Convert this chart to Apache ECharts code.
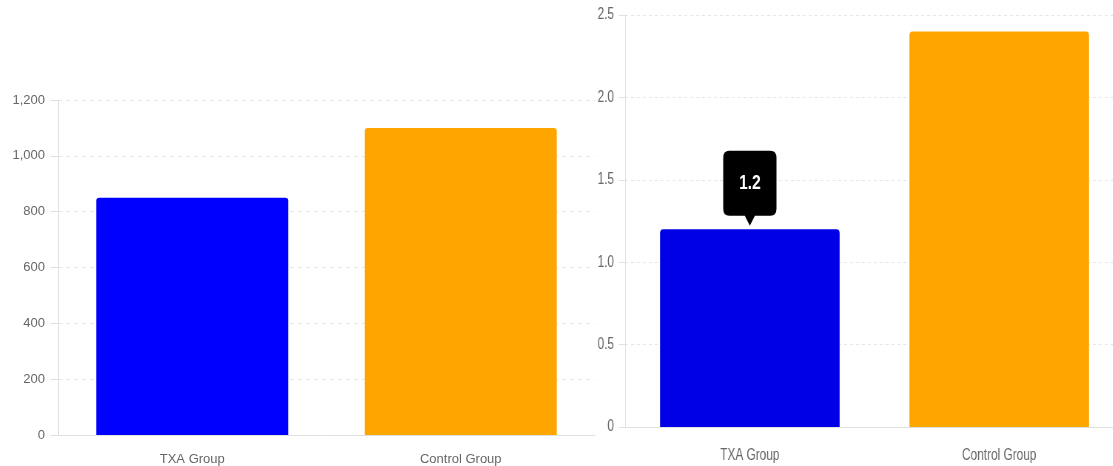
<!DOCTYPE html>
<html><head><meta charset="utf-8">
<script src="https://cdn.jsdelivr.net/npm/echarts@6/dist/echarts.min.js"></script>
<style>
html,body{margin:0;padding:0;background:#fff;overflow:hidden;width:1113px;height:466px}
#wrap{position:relative;width:1113px;height:466px;overflow:hidden}
#left{position:absolute;left:0;top:0;width:1113px;height:466px}
#right{position:absolute;left:580px;top:0;width:800px;height:466px;transform:scaleX(0.74);transform-origin:0 0}
</style>
</head><body><div id="wrap"><div id="left"></div><div id="right"></div></div>
<script>
const categories = ['TXA Group', 'Control Group'];
const leftValues = [850, 1100];
const rightValues = [1.2, 2.4];
const leftColors = ['#0000ff', '#ffa500'];
const rightColors = ['#0000e6', '#ffa500'];
const highlight = { category: 'TXA Group', value: 1.2 };

const gridLine = { show: true, lineStyle: { color: '#e6e6e6', type: [4, 4] } };
const axLine = { show: true, lineStyle: { color: '#e0e0e0' } };
const font = 'Liberation Sans';

const left = echarts.init(document.getElementById('left'));
left.setOption({
  animation: false,
  grid: { left: 58, right: 518, top: 100, bottom: 31 },
  xAxis: { type: 'category', data: categories, axisLine: axLine, axisTick: { show: false },
    axisLabel: { color: '#666', fontSize: 13, fontFamily: font, margin: 18 } },
  yAxis: { type: 'value', min: 0, max: 1200, interval: 200, axisLine: axLine,
    axisTick: { show: true, length: 8, lineStyle: { color: '#e0e0e0' } }, splitLine: gridLine,
    axisLabel: { color: '#666', fontSize: 13, fontFamily: font, margin: 13 } },
  series: [{ type: 'bar', barWidth: '71.5%',
    data: leftValues.map((v, i) => ({ value: v, itemStyle: { color: leftColors[i], borderRadius: [3, 3, 0, 0] } })) }]
});

const tooltipPath = 'path://M8,0 H64 Q72,0 72,7 V58 Q72,65 64,65 H42.8 L36,75 L29.2,65 H8 Q0,65 0,58 V7 Q0,0 8,0 Z';
const right = echarts.init(document.getElementById('right'));
right.setOption({
  animation: false,
  grid: { left: 61, right: 65, top: 15, bottom: 39 },
  xAxis: { type: 'category', data: categories, axisLine: axLine, axisTick: { show: false },
    axisLabel: { color: '#666', fontSize: 16, fontFamily: font, margin: 21 } },
  yAxis: { type: 'value', min: 0, max: 2.5, interval: 0.5, axisLine: axLine,
    axisTick: { show: true, length: 9, lineStyle: { color: '#e0e0e0' } }, splitLine: gridLine,
    axisLabel: { color: '#666', fontSize: 16, fontFamily: font, margin: 15,
      formatter: v => (v === 0 ? '0' : v.toFixed(1)) } },
  series: [{ type: 'bar', barWidth: '72%',
    data: rightValues.map((v, i) => ({ value: v, itemStyle: { color: rightColors[i], borderRadius: [4, 4, 0, 0] } })),
    markPoint: {
      data: [{ coord: [highlight.category, highlight.value], value: highlight.value }],
      symbol: tooltipPath, symbolSize: [72, 75], symbolKeepAspect: false, symbolOffset: [0, -41],
      itemStyle: { color: '#000' },
      label: { show: true, color: '#fff', fontSize: 21, fontWeight: 'bold', fontFamily: font, offset: [0, -5] }
    } }]
});
</script></body></html>
